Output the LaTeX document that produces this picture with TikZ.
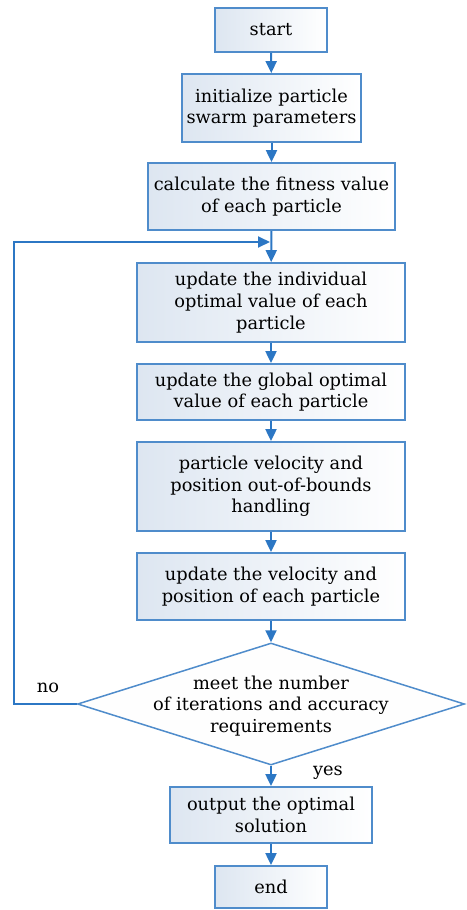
\documentclass[tikz,border=0pt]{standalone}
\usepackage{fontspec}
\setmainfont{DejaVu Serif}
\usetikzlibrary{arrows.meta,shapes.geometric}
\definecolor{edgeblue}{HTML}{4F8CCB}
\definecolor{arrowblue}{HTML}{2C77C4}
\definecolor{boxfill}{HTML}{DDE6F1}
\tikzset{
  box/.style={draw=edgeblue, line width=1.8pt, left color=boxfill, right color=white, shading angle=90,
    minimum width=#1, align=center, inner sep=0pt,
    font=\fontsize{17.8}{21.7}\selectfont},
  box/.default=268pt,
  cond/.style={diamond, draw=edgeblue, line width=1.5pt, fill=white!96!boxfill,
    minimum width=387pt, minimum height=122pt, inner sep=0pt},
  lbl/.style={font=\fontsize{17.8}{21.7}\selectfont, inner sep=0pt, align=center},
  arr/.style={draw=arrowblue, line width=2pt, -{Triangle[length=12pt,width=11pt]}},
}
\begin{document}
\begin{tikzpicture}[x=1pt,y=-1pt]
\useasboundingbox (0,0) rectangle (466,910);
\node[box=112pt, minimum height=44pt] (start) at (271,30) {start};
\node[box=179pt, minimum height=68pt] (init) at (271.5,108) {initialize particle\\swarm parameters};
\node[box=247pt, minimum height=67pt] (calc) at (271.5,196.5) {calculate the fitness value\\of each particle};
\node[box=268pt, minimum height=79pt] (indiv) at (271,302.5) {update the individual\\optimal value of each\\particle};
\node[box=268pt, minimum height=56pt] (glob) at (271,392) {update the global optimal\\value of each particle};
\node[box=268pt, minimum height=89pt] (bound) at (271,486.5) {particle velocity and\\position out-of-bounds\\handling};
\node[box=268pt, minimum height=67pt] (upd) at (271,586.5) {update the velocity and\\position of each particle};
\node[cond] (dec) at (271,704) {};
\node[lbl] (dectext) at (271,706) {meet the number\\of iterations and accuracy\\requirements};
\node[box=202pt, minimum height=56pt] (out) at (271,815) {output the optimal\\solution};
\node[box=112pt, minimum height=42pt] (end) at (271,887) {end};
\node[lbl] (no) at (48,688) {no};
\node[lbl] (yes) at (328,773) {yes};
\coordinate (lb) at (14,704);
\coordinate (lt) at (14,242);
\coordinate (merge) at (271,242);
\draw[arr] (start) -- (init);
\draw[arr] (init) -- (calc);
\draw[arr] (calc) -- (indiv);
\draw[arr] (indiv) -- (glob);
\draw[arr] (glob) -- (bound);
\draw[arr] (bound) -- (upd);
\draw[arr] (upd) -- (dec);
\draw[arr] (dec) -- (out);
\draw[arr] (out) -- (end);
\draw[arr] (dec.west) -- (lb) -- (lt) -- ([xshift=-1pt]merge);
\end{tikzpicture}
\end{document}
